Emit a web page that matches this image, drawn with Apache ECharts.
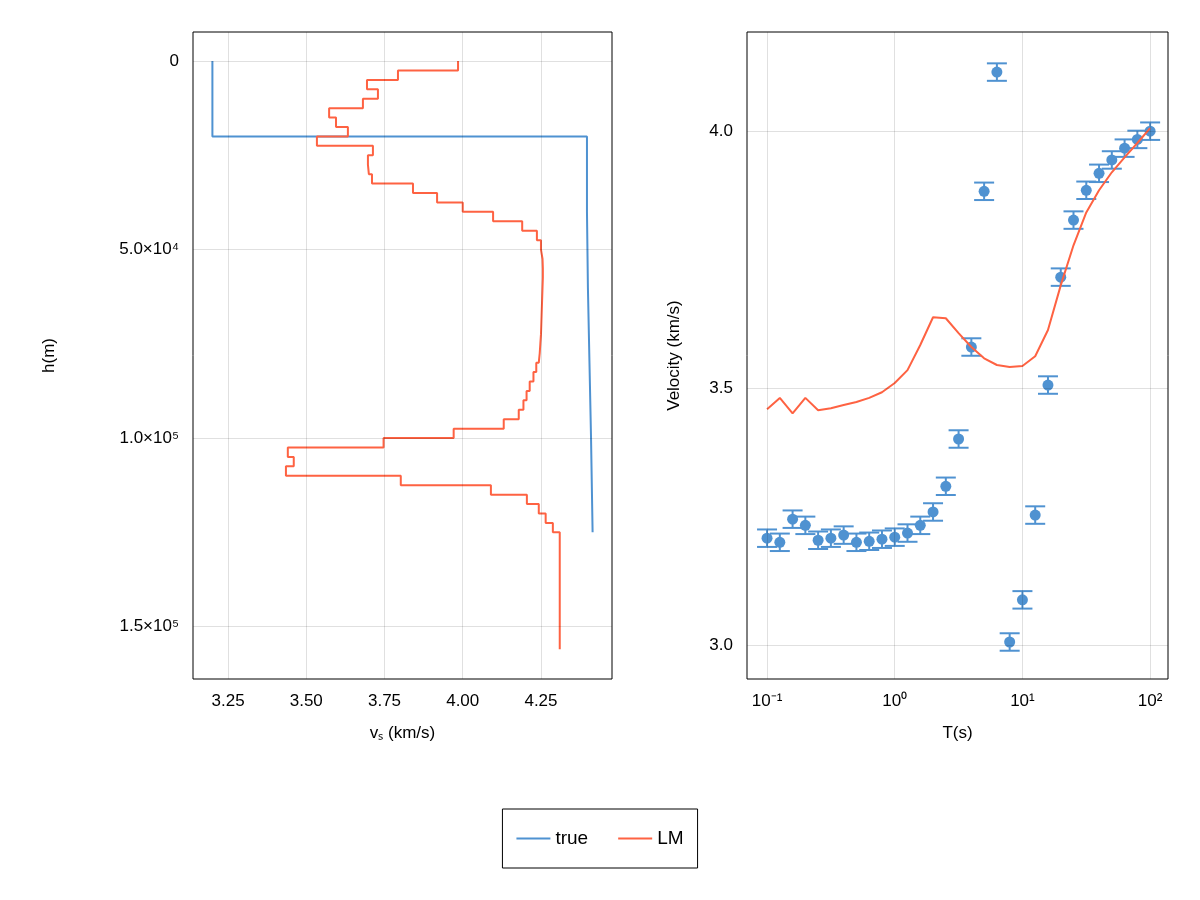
<!DOCTYPE html>
<html><head><meta charset="utf-8">
<script src="https://cdn.jsdelivr.net/npm/echarts@6/dist/echarts.min.js"></script>
<style>html,body{margin:0;padding:0;background:#fff}#c{width:1200px;height:900px}</style>
</head><body><div id="c"></div>
<script>
const layerThickness = 2500;
const lmVelocity = [3.985,3.793,3.694,3.729,3.681,3.573,3.595,3.633,3.534,3.713,3.697,3.70,3.71,3.841,3.918,4.0,4.097,4.19,4.237,4.25,
 4.255,4.256,4.256,4.255,4.254,4.253,4.252,4.251,4.250,4.248,4.246,4.243,4.235,4.226,4.214,4.204,4.194,4.179,4.131,3.971,
 3.747,3.441,3.46,3.435,3.802,4.09,4.205,4.243,4.265,4.288,4.31,4.31,4.31,4.31,4.31,4.31,4.31,4.31,4.31,4.31,4.31,4.31];
const lmBottom = 156000;
const trueTops = [0,20000,40000,60000,80000,100000];
const trueVelocity = [3.2,4.397,4.40,4.405,4.41,4.415];
const trueBottom = 125000;
const periodT = [];
for (let k=0;k<=30;k++) periodT.push(Math.pow(10,-1+0.1*k));
const obsVelocity = [3.208,3.200,3.245,3.233,3.204,3.208,3.214,3.200,3.202,3.206,3.210,3.218,3.233,3.259,3.309,3.401,3.580,3.883,4.115,3.006,3.088,3.253,3.506,3.716,3.827,3.885,3.918,3.944,3.967,3.984,4.0];
const obsError = 0.017;
const lmDispersion = [3.459,3.481,3.451,3.481,3.457,3.461,3.467,3.473,3.481,3.492,3.51,3.535,3.584,3.638,3.636,3.607,3.580,3.558,3.545,3.541,3.543,3.562,3.613,3.700,3.778,3.842,3.885,3.920,3.949,3.977,4.006];
const hTicks = [0,50000,100000,150000];
const vTicks = [3.25,3.5,3.75,4.0,4.25];
const logTTicks = [-1,0,1,2];
const velTicks = [3.0,3.5,4.0];

const BLUE='#4f92d1', RED='#fe6242', GRID='rgba(0,0,0,0.12)';
const sup = {'-':'⁻','0':'⁰','1':'¹','2':'²','3':'³','4':'⁴','5':'⁵','6':'⁶','7':'⁷','8':'⁸','9':'⁹'};
const toSup = s => String(s).split('').map(c=>sup[c]).join('');

function steps(vals, tops, bottom){
  const pts=[];
  for(let i=0;i<vals.length;i++){
    const top=tops[i], bot=(i+1<tops.length)?tops[i+1]:bottom;
    pts.push([vals[i],top]); pts.push([vals[i],bot]);
  }
  return pts;
}
const lmTops = lmVelocity.map((_,i)=>i*layerThickness);
const lmPts = steps(lmVelocity, lmTops, lmBottom);
const truePts = steps(trueVelocity, trueTops, trueBottom);
const logT = periodT.map(t=>Math.log10(t));

const font = {fontFamily:'Liberation Sans, Arial', fontSize:17, color:'#000'};
const gl = (axis, vals)=>({silent:true,symbol:'none',label:{show:false},lineStyle:{color:GRID,type:'solid',width:1},animation:false,
  data:vals.map(v=>({[axis]:v}))});
const noLine = {show:false,onZero:false};

const chart = echarts.init(document.getElementById('c'));
chart.setOption({
  animation:false,
  grid:[
    {left:193,right:588,top:32,bottom:221,show:true,borderColor:'#000',borderWidth:1},
    {left:747,right:32,top:32,bottom:221,show:true,borderColor:'#000',borderWidth:1}
  ],
  legend:{data:['true','LM'],bottom:32,left:'center',orient:'horizontal',borderColor:'#000',borderWidth:1,
    padding:[20,14,20,14],itemGap:30,itemWidth:34,textStyle:{...font,fontSize:19},icon:'path://M0,0 L34,0 L34,2 L0,2 Z'},
  xAxis:[
    {gridIndex:0,type:'value',min:3.138,max:4.477,splitLine:{show:false},axisLine:noLine,
      axisTick:{show:false},
      axisLabel:{...font,customValues:vTicks,formatter:v=>v.toFixed(2),margin:14},
      name:'vₛ (km/s)',nameLocation:'middle',nameGap:46,nameTextStyle:font},
    {gridIndex:1,type:'value',min:-1.157,max:2.14,splitLine:{show:false},axisLine:noLine,
      axisTick:{show:false},
      axisLabel:{...font,customValues:logTTicks,formatter:v=>'10'+toSup(Math.round(v)),margin:14},
      name:'T(s)',nameLocation:'middle',nameGap:46,nameTextStyle:font}
  ],
  yAxis:[
    {gridIndex:0,type:'value',inverse:true,min:-7700,max:163900,splitLine:{show:false},axisLine:noLine,
      axisTick:{show:false},
      axisLabel:{...font,customValues:hTicks,margin:14,formatter:v=>{
        if(v===0) return '0';
        const e=Math.floor(Math.log10(v)); return (v/Math.pow(10,e)).toFixed(1)+'×10'+toSup(e);}},
      name:'h(m)',nameLocation:'middle',nameGap:135,nameTextStyle:font},
    {gridIndex:1,type:'value',min:2.934,max:4.193,splitLine:{show:false},axisLine:noLine,
      axisTick:{show:false},
      axisLabel:{...font,customValues:velTicks,formatter:v=>v.toFixed(1),margin:14},
      name:'Velocity (km/s)',nameLocation:'middle',nameGap:64,nameTextStyle:font}
  ],
  series:[
    {name:'true',type:'line',xAxisIndex:0,yAxisIndex:0,data:truePts,showSymbol:false,lineStyle:{color:BLUE,width:2},itemStyle:{color:BLUE},
      markLine:gl('xAxis',vTicks)},
    {name:'LM',type:'line',xAxisIndex:0,yAxisIndex:0,data:lmPts,showSymbol:false,lineStyle:{color:RED,width:2},itemStyle:{color:RED},
      markLine:gl('yAxis',hTicks)},
    {type:'custom',xAxisIndex:1,yAxisIndex:1,data:logT.map((x,i)=>[x,obsVelocity[i]]),
      renderItem:(params,api)=>{
        const x=api.value(0), y=api.value(1);
        const top=api.coord([x,y+obsError]), bot=api.coord([x,y-obsError]);
        const w=10, st={stroke:BLUE,lineWidth:2};
        return {type:'group',children:[
          {type:'line',shape:{x1:top[0],y1:top[1],x2:bot[0],y2:bot[1]},style:st},
          {type:'line',shape:{x1:top[0]-w,y1:top[1],x2:top[0]+w,y2:top[1]},style:st},
          {type:'line',shape:{x1:bot[0]-w,y1:bot[1],x2:bot[0]+w,y2:bot[1]},style:st}]};
      },
      markLine:gl('xAxis',logTTicks)},
    {type:'scatter',xAxisIndex:1,yAxisIndex:1,data:logT.map((x,i)=>[x,obsVelocity[i]]),symbolSize:11,itemStyle:{color:BLUE,opacity:1},
      markLine:gl('yAxis',velTicks)},
    {type:'line',xAxisIndex:1,yAxisIndex:1,data:logT.map((x,i)=>[x,lmDispersion[i]]),showSymbol:false,lineStyle:{color:RED,width:2}}
  ]
});
</script></body></html>
